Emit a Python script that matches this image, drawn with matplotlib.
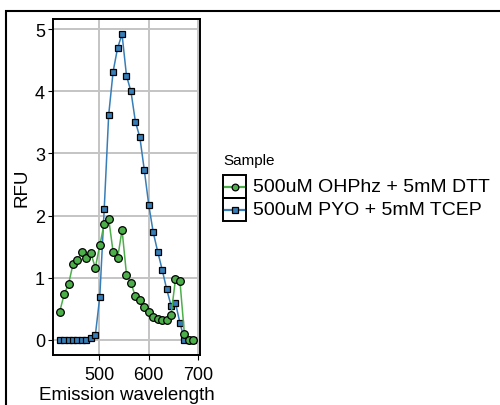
import numpy as np
import matplotlib
matplotlib.use('Agg')
import matplotlib.pyplot as plt
from matplotlib.patches import Rectangle
from matplotlib.lines import Line2D

# emission wavelength, 9 nm steps from 420 to 690
wavelength = [420, 429, 438, 447, 456, 465, 474, 483, 492, 501, 510, 519, 528, 537, 546,
              555, 564, 573, 582, 591, 600, 609, 618, 627, 636, 645, 654, 663, 672, 681, 690]
rfu_ohphz = [0.45, 0.73, 0.90, 1.22, 1.28, 1.42, 1.31, 1.39, 1.16, 1.52, 1.87, 1.95, 1.41, 1.31, 1.77,
             1.05, 0.91, 0.70, 0.64, 0.53, 0.44, 0.36, 0.33, 0.32, 0.32, 0.40, 0.98, 0.94, 0.09, 0.0, 0.0]
rfu_pyo = [0.0, 0.0, 0.0, 0.0, 0.0, 0.0, 0.0, 0.02, 0.07, 0.69, 2.11, 3.62, 4.32, 4.70, 4.92,
           4.25, 4.00, 3.51, 3.26, 2.73, 2.17, 1.73, 1.42, 1.13, 0.82, 0.55, 0.59, 0.27, 0.0, 0.0, 0.0]
labels = ['500uM OHPhz + 5mM DTT', '500uM PYO + 5mM TCEP']
colors = ['#4DAF4A', '#377EB8']

plt.rcParams['font.family'] = 'Liberation Sans'

W, H = 500, 406
fig = plt.figure(figsize=(5, 4.06), dpi=100)

# outer frame, right/bottom edges fall off the picture
fig.add_artist(Rectangle((6 / W, -0.2), 1.2, (406 - 12) / H + 0.2, transform=fig.transFigure,
                         fill=False, edgecolor='black', linewidth=1.5))

ax = fig.add_axes([53 / W, 50 / H, 147 / W, 336 / H])
ax.grid(True, color='#C4C4C4', linewidth=1.4, zorder=0)
ax.set_axisbelow(True)

ax.plot(wavelength, rfu_pyo, color=colors[1], linewidth=1.1, marker='s', markersize=4.8,
        markerfacecolor=colors[1], markeredgecolor='black', markeredgewidth=0.9, zorder=3)
ax.plot(wavelength, rfu_ohphz, color=colors[0], linewidth=1.1, marker='o', markersize=5.5,
        markerfacecolor=colors[0], markeredgecolor='black', markeredgewidth=0.9, zorder=4)

xr = max(wavelength) - min(wavelength)
ax.set_xlim(min(wavelength) - 0.05 * xr, max(wavelength) + 0.05 * xr)
yr = max(max(rfu_pyo), max(rfu_ohphz))
ax.set_ylim(-0.05 * yr, yr * 1.05)
ax.set_xticks([500, 600, 700])
ax.set_yticks([0, 1, 2, 3, 4, 5])
ax.tick_params(labelsize=13, length=3.5, width=0.8, colors='black')
ax.tick_params(axis='x', pad=4.2)
ax.tick_params(axis='y', pad=2.2)
for s in ax.spines.values():
    s.set_linewidth(1.4)
    s.set_color('black')
ax.set_xlabel('Emission wavelength', fontsize=13.5, labelpad=2.5)
ax.set_ylabel('RFU', fontsize=13.5, labelpad=3)

# legend, drawn by hand so the keys get a black box
fig.text(223 / W, 1 - 161 / H, 'Sample', fontsize=11, va='center', ha='left')
for i, (lab, col, mk) in enumerate(zip(labels, colors, ['o', 's'])):
    top = 176 + i * 23
    fig.add_artist(Rectangle((223 / W, 1 - (top + 23) / H), 23 / W, 23 / H,
                             transform=fig.transFigure, fill=False,
                             edgecolor='black', linewidth=1.4))
    yc = 1 - (top + 11.5) / H
    fig.add_artist(Line2D([225 / W, 244 / W], [yc, yc], transform=fig.transFigure,
                          color=col, linewidth=1.6))
    fig.add_artist(Line2D([234.5 / W], [yc], transform=fig.transFigure, marker=mk,
                          markersize=4.8, markerfacecolor=col, markeredgecolor='black',
                          markeredgewidth=0.9))
    fig.text(253 / W, yc, lab, fontsize=14, va='center', ha='left')

fig.savefig('out.png', dpi=100)
